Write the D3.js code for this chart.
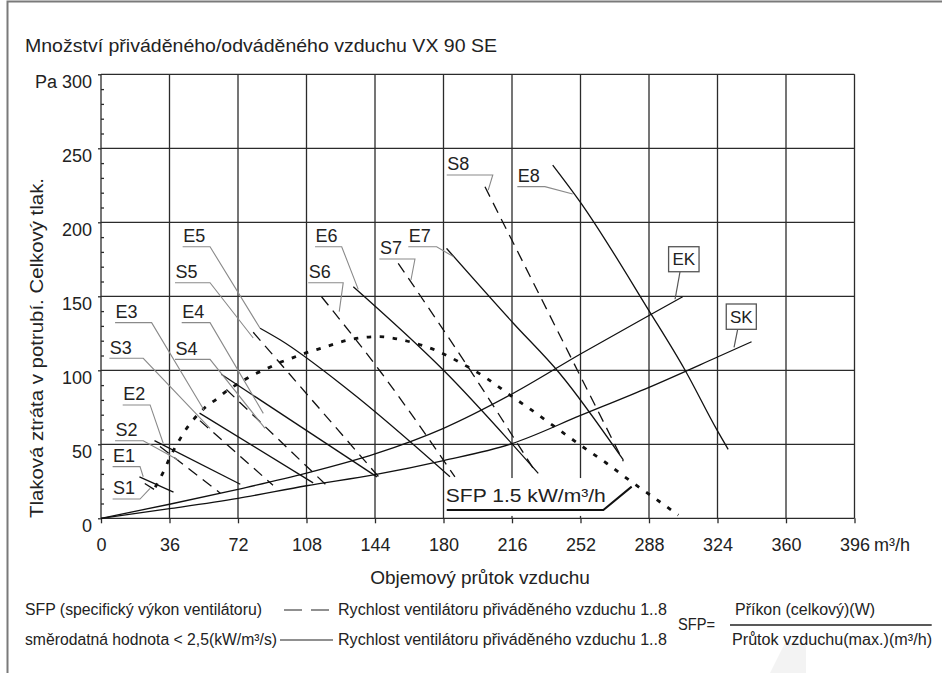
<!DOCTYPE html>
<html>
<head>
<meta charset="utf-8">
<script src="https://cdn.jsdelivr.net/npm/d3@7"></script>
<style>
  body { margin: 0; background: #fff; }
  text { font-family: "Liberation Sans", Arial, sans-serif; fill: #222; }
</style>
</head>
<body>
<svg id="chart" width="942" height="673"></svg>
<script>
// Axis ticks: air flow (m3/h) and pressure (Pa).
const flowTicks = [0, 36, 72, 108, 144, 180, 216, 252, 288, 324, 360, 396];
const pressureTicks = [0, 50, 100, 150, 200, 250, 300];

// Supply fan speeds 1..8 (dashed), [m3/h, Pa].
const supplyCurves = [
  { name: 'S1', pts: [[23, 23.5], [31, 17]] },
  { name: 'S2', pts: [[31, 48.5], [62.7, 17]] },
  { name: 'S3', pts: [[52, 66], [90.4, 22.3]] },
  { name: 'S4', pts: [[65.9, 87], [118.5, 22.3]] },
  { name: 'S5', pts: [[80, 125.7], [147.5, 25.7]] },
  { name: 'S6', pts: [[115.9, 149.7], [147.5, 98], [186, 28]] },
  { name: 'S7', pts: [[156.2, 172.3], [195.7, 96.8], [229, 30]] },
  { name: 'S8', pts: [[201.8, 224], [274.5, 38.5]] },
];

// Extract fan speeds 1..8 (solid).
const extractCurves = [
  { name: 'E1', pts: [[20.2, 28], [38.1, 17.7]] },
  { name: 'E2', pts: [[28.1, 52.5], [73.2, 23]] },
  { name: 'E3', pts: [[51.8, 71.1], [111.5, 23.9]] },
  { name: 'E4', pts: [[63.2, 97.3], [145, 28]] },
  { name: 'E5', pts: [[83.6, 128.4], [94.1, 120.6], [130, 86.7], [183.4, 28.1]] },
  { name: 'E6', pts: [[132.6, 156.5], [179.9, 100.2], [229.8, 30.4]] },
  { name: 'E7', pts: [[181.6, 182.4], [216.7, 131.8], [241, 98], [274.5, 39.4]] },
  { name: 'E8', pts: [[237.4, 238.7], [251.7, 214], [287.8, 140.7], [306.9, 100.2], [323.7, 59.7], [329.6, 46.6]] },
];

// System curves.
const ekCurve = [[0, 0], [36, 9.5], [72, 19.6], [108, 30.5], [144, 43.5], [180, 60.8], [216, 84], [252, 111], [288, 137], [305.7, 149.7]];
const skCurve = [[0, 0], [36, 6.5], [72, 13.5], [108, 22], [144, 29.5], [180, 39], [216, 50.5], [252, 69.5], [288, 88.5], [324, 109], [341.9, 119.3]];

// SFP 1.5 kW/m3/h limit (dotted).
const sfpCurve = [
  [28.5, 21], [32.8, 31.4], [36.4, 41.6], [39.9, 50], [43.9, 58.6], [48.8, 67], [54.4, 74.5],
  [60.9, 80.7], [66.4, 86.4], [72.9, 91.6], [79.5, 96.6], [86.4, 100.7], [93.9, 105.2],
  [101, 108.6], [108.5, 112.1], [116, 115], [130, 120.5], [146, 122.7], [160.6, 119.8],
  [175.5, 113.7], [189.5, 104.7], [202.7, 94.6], [214.9, 83.3], [228, 71.6], [240.8, 59.7],
  [253.1, 48.4], [265.7, 37.2], [278, 25.4], [291.1, 13.5], [303.4, 2.2],
];

// Label anchors in data units: underline x0..x1 at y, leader to (tx, ty).
const curveLabels = [
  { text: 'E1', x0: 6.1, x1: 20.5, y: 34.9, tx: 22.2, ty: 28.1 },
  { text: 'S1', x0: 6.1, x1: 20.5, y: 13.0, tx: 25.8, ty: 20.3 },
  { text: 'E2', x0: 11.4, x1: 25.8, y: 76.6, tx: 32.7, ty: 50.7 },
  { text: 'S2', x0: 7.4, x1: 22.2, y: 52.4, tx: 40.6, ty: 39.4 },
  { text: 'E3', x0: 7.4, x1: 26.6, y: 132.2, tx: 54.1, ty: 73.2 },
  { text: 'S3', x0: 4.4, x1: 22.2, y: 108.1, tx: 57.3, ty: 60.8 },
  { text: 'E4', x0: 42.4, x1: 57.3, y: 132.2, tx: 85.3, ty: 70.9 },
  { text: 'S4', x0: 38.9, x1: 57.3, y: 107.4, tx: 86.2, ty: 60.8 },
  { text: 'E5', x0: 42.9, x1: 57.3, y: 183.5, tx: 83.6, ty: 128.4 },
  { text: 'S5', x0: 38.9, x1: 57.3, y: 159.2, tx: 80, ty: 121.8 },
  { text: 'E6', x0: 112.5, x1: 126.5, y: 183.5, tx: 135.2, ty: 154.7 },
  { text: 'S6', x0: 108.9, x1: 127.3, y: 159.2, tx: 125.2, ty: 139.6 },
  { text: 'E7', x0: 161.5, x1: 176.4, y: 183.5, tx: 185.2, ty: 176.8 },
  { text: 'S7', x0: 146.3, x1: 165, y: 175.2, tx: 162.9, ty: 161 },
  { text: 'E8', x0: 218.8, x1: 233.3, y: 224.1, tx: 247.9, ty: 219.1 },
  { text: 'S8', x0: 181.7, x1: 205.9, y: 232, tx: 203.5, ty: 221.8 },
];

// Boxed labels for the system curves.
const boxLabels = [
  { text: 'EK', bx0: 298.3, bx1: 314.3, by0: 183.5, by1: 166.6, lx: 304.3, tx: 301.7, ty: 148 },
  { text: 'SK', bx0: 328.6, bx1: 344.4, by0: 144.8, by1: 127.7, lx: 334.6, tx: 332.7, ty: 115.5 },
];

const svg = d3.select('#chart');
const x = d3.scaleLinear().domain([0, 396]).range([101, 854.5]);
const y = d3.scaleLinear().domain([0, 300]).range([518.3, 74.3]);
const GRID = '#2b2b2b';

// Page frame and faint mark bottom right.
svg.append('path').attr('d', 'M7.5,673V1.5H942')
  .attr('fill', 'none').attr('stroke', '#7a7a7a').attr('stroke-width', 2);
svg.append('path').attr('d', 'M770,673L785,643H806V673Z').attr('fill', '#f3f3f3');

svg.append('text')
  .attr('x', 25).attr('y', 52)
  .attr('font-size', 19)
  .attr('textLength', 472).attr('lengthAdjust', 'spacingAndGlyphs')
  .text('Množství přiváděného/odváděného vzduchu VX 90 SE');

// Grid
const grid = svg.append('g').attr('stroke', GRID).attr('stroke-width', 1.3);
grid.selectAll('line.v').data(flowTicks).join('line').attr('class', 'v')
  .attr('x1', (d) => x(d)).attr('x2', (d) => x(d))
  .attr('y1', y(0)).attr('y2', y(300));
grid.selectAll('line.h').data(pressureTicks).join('line').attr('class', 'h')
  .attr('x1', x(0)).attr('x2', x(396))
  .attr('y1', (d) => y(d)).attr('y2', (d) => y(d));

// Axes
const xAxis = svg.append('g')
  .attr('transform', `translate(0,${y(0)})`)
  .call(d3.axisBottom(x).tickValues(flowTicks).tickSize(5).tickPadding(15));
xAxis.select('.domain').remove();

const yAxis = svg.append('g')
  .attr('transform', `translate(${x(0)},0)`)
  .call(d3.axisLeft(y).tickValues(pressureTicks).tickSize(3).tickPadding(6)
    .tickFormat((d) => (d === 300 ? 'Pa 300' : d)));
yAxis.select('.domain').remove();
yAxis.selectAll('text').attr('dy', '0.73em');

const minor = svg.append('g')
  .attr('transform', `translate(${x(0)},0)`)
  .call(d3.axisRight(y).tickValues(d3.range(10, 300, 10).filter((v) => v % 50)).tickSize(3).tickFormat(''));
minor.select('.domain').remove();

[xAxis, yAxis, minor].forEach((g) => {
  g.attr('font-size', 18).attr('font-family', null);
  g.selectAll('line').attr('stroke', GRID).attr('stroke-width', 1.3);
  g.selectAll('text').attr('fill', '#222');
});

svg.append('text').attr('x', 874).attr('y', 551).attr('font-size', 18).text('m³/h');

svg.append('text')
  .attr('x', 480).attr('y', 584)
  .attr('text-anchor', 'middle').attr('font-size', 19)
  .text('Objemový průtok vzduchu');

svg.append('text')
  .attr('transform', `translate(43,${(178 + 518) / 2}) rotate(-90)`)
  .attr('text-anchor', 'middle').attr('font-size', 19)
  .attr('textLength', 340).attr('lengthAdjust', 'spacingAndGlyphs')
  .text('Tlaková ztráta v potrubí. Celkový tlak.');

// White box behind the SFP label
svg.append('rect')
  .attr('x', x(181)).attr('y', y(27.2))
  .attr('width', x(265.4) - x(181)).attr('height', y(1.6) - y(27.2))
  .attr('fill', '#fff');

// Curves
const line = d3.line().x((d) => x(d[0])).y((d) => y(d[1])).curve(d3.curveMonotoneX);
const curves = svg.append('g').attr('fill', 'none').attr('stroke', '#111').attr('stroke-width', 1.3);

curves.selectAll('path.sys').data([ekCurve, skCurve]).join('path').attr('class', 'sys')
  .attr('d', line);

curves.selectAll('path.ext').data(extractCurves).join('path').attr('class', 'ext')
  .attr('d', (d) => line(d.pts));

curves.selectAll('path.sup').data(supplyCurves).join('path').attr('class', 'sup')
  .attr('stroke-dasharray', '11,7')
  .attr('d', (d) => line(d.pts));

curves.append('path')
  .attr('d', line(sfpCurve))
  .attr('stroke-width', 2.8)
  .attr('stroke-dasharray', '4.5,8.5');

// Curve labels with leaders
const labels = svg.append('g');
labels.selectAll('polyline').data(curveLabels).join('polyline')
  .attr('fill', 'none').attr('stroke', '#8a8a8a').attr('stroke-width', 1.1)
  .attr('points', (d) => [[x(d.x0), y(d.y)], [x(d.x1), y(d.y)], [x(d.tx), y(d.ty)]].join(' '));
labels.selectAll('text').data(curveLabels).join('text')
  .attr('x', (d) => x(d.x0) + 0.5)
  .attr('y', (d) => y(d.y) - 4.7)
  .attr('font-size', 18)
  .text((d) => d.text);

const boxes = svg.append('g');
boxes.selectAll('line').data(boxLabels).join('line')
  .attr('stroke', '#555').attr('stroke-width', 1.2)
  .attr('x1', (d) => x(d.lx)).attr('y1', (d) => y(d.by1))
  .attr('x2', (d) => x(d.tx)).attr('y2', (d) => y(d.ty));
boxes.selectAll('rect').data(boxLabels).join('rect')
  .attr('x', (d) => x(d.bx0)).attr('y', (d) => y(d.by0))
  .attr('width', (d) => x(d.bx1) - x(d.bx0)).attr('height', (d) => y(d.by1) - y(d.by0))
  .attr('fill', '#fff').attr('stroke', '#555').attr('stroke-width', 1.3);
boxes.selectAll('text').data(boxLabels).join('text')
  .attr('x', (d) => (x(d.bx0) + x(d.bx1)) / 2)
  .attr('y', (d) => (y(d.by0) + y(d.by1)) / 2 + 6)
  .attr('text-anchor', 'middle').attr('font-size', 17)
  .text((d) => d.text);

// SFP label
svg.append('polyline')
  .attr('fill', 'none').attr('stroke', '#111').attr('stroke-width', 2)
  .attr('points', [[x(181.7), y(5.6)], [x(264), y(5.6)], [x(278.9), y(21.4)]].join(' '));
svg.append('text')
  .attr('x', x(181.2)).attr('y', y(24))
  .attr('font-size', 19)
  .attr('dy', '1em')
  .attr('textLength', 160).attr('lengthAdjust', 'spacingAndGlyphs')
  .text('SFP 1.5 kW/m³/h');

// Legend
const legend = svg.append('g').attr('font-size', 16);
const legendText = (tx, ty, len, s) => legend.append('text')
  .attr('x', tx).attr('y', ty)
  .attr('textLength', len).attr('lengthAdjust', 'spacingAndGlyphs')
  .text(s);

legendText(25, 615, 237, 'SFP (specifický výkon ventilátoru)');
legendText(25, 645, 252, 'směrodatná hodnota < 2,5(kW/m³/s)');
legendText(338, 615, 329, 'Rychlost ventilátoru přiváděného vzduchu 1..8');
legendText(338, 645, 329, 'Rychlost ventilátoru přiváděného vzduchu 1..8');
legendText(678, 630, 37, 'SFP=');
legendText(735, 615, 140, 'Příkon (celkový)(W)');
legendText(732, 645, 200, 'Průtok vzduchu(max.)(m³/h)');

legend.append('line').attr('x1', 284).attr('x2', 329).attr('y1', 610).attr('y2', 610)
  .attr('stroke', '#222').attr('stroke-width', 1.2).attr('stroke-dasharray', '18,9');
legend.append('line').attr('x1', 280).attr('x2', 333).attr('y1', 640).attr('y2', 640)
  .attr('stroke', '#222').attr('stroke-width', 1.2);
legend.append('line').attr('x1', 730).attr('x2', 931.7).attr('y1', 625).attr('y2', 625)
  .attr('stroke', '#222').attr('stroke-width', 1.4);
</script>
</body>
</html>
